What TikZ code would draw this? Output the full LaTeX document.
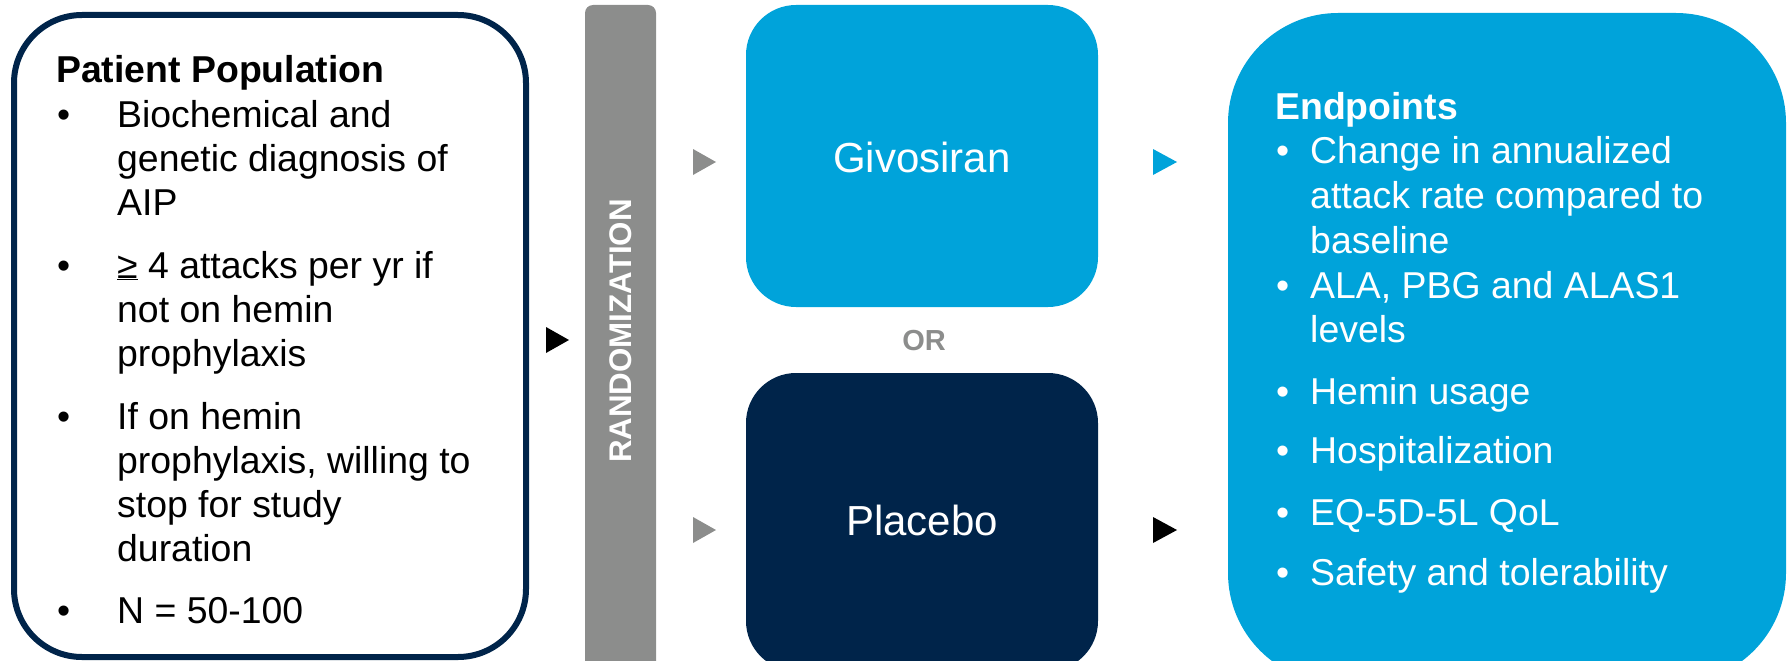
\documentclass[tikz,border=0pt]{standalone}
\usepackage{fontspec}
\setmainfont{Liberation Sans}
\definecolor{cblue}{RGB}{0,163,218}
\definecolor{cnavy}{RGB}{0,36,74}
\definecolor{cgrey}{RGB}{140,141,140}
\begin{document}
\begin{tikzpicture}[x=1pt,y=-1pt,
  box/.style={anchor=north west, inner sep=0pt, outer sep=0pt},
  body/.style={anchor=base west, inner sep=0pt, font=\fontsize{37.4}{44.7}\selectfont},
  head/.style={anchor=base west, inner sep=0pt, font=\fontsize{37.4}{44.7}\selectfont\bfseries},
  blk/.style={text=black},
  wht/.style={text=white}]
\clip (0,0) rectangle (1789,661);
% boxes
\node[box, draw=cnavy, line width=6pt, rounded corners=68pt, minimum width=512pt, minimum height=642pt] (pop) at (14,15) {};
\node[box, fill=cgrey, rounded corners=8pt, minimum width=71pt, minimum height=670pt] (rand) at (585,5) {};
\node[box, fill=cblue, rounded corners=50pt, minimum width=352pt, minimum height=302pt] (giv) at (746,5) {};
\node[box, fill=cnavy, rounded corners=50pt, minimum width=352pt, minimum height=298pt] (pla) at (746,373) {};
\node[box, fill=cblue, rounded corners=110pt, minimum width=558pt, minimum height=670pt] (endp) at (1228,13) {};
% box labels
\node[inner sep=0pt, rotate=90, text=white, font=\fontsize{31.3}{36}\selectfont\bfseries] (randt) at (621,331) {RANDOMIZATION};
\node[inner sep=0pt, text=white, font=\fontsize{42}{50}\selectfont] (givt) at (922,157) {Givosiran};
\node[inner sep=0pt, text=white, font=\fontsize{42}{50}\selectfont] (plat) at (922,520) {Placebo};
\node[inner sep=0pt, text=cgrey, font=\fontsize{29}{34}\selectfont\bfseries] (ort) at (924,341) {OR};
% arrowheads
\fill[black] (546,327) coordinate (a1) -- (569,340) -- (546,353) -- cycle;
\fill[cgrey] (693,149) coordinate (a2) -- (716,162) -- (693,175) -- cycle;
\fill[cgrey] (693,517) coordinate (a3) -- (716,530) -- (693,543) -- cycle;
\fill[cblue] (1153,149) coordinate (a4) -- (1177,162) -- (1153,175) -- cycle;
\fill[black] (1153,517) coordinate (a5) -- (1177,530) -- (1153,543) -- cycle;
% patient population
\node[head, blk] (ppt) at (56,83) {Patient Population};
\node[body, blk] (pb1) at (57,127) {•};
\node[body, blk] (pb2) at (57,278) {•};
\node[body, blk] (pb3) at (57,429) {•};
\node[body, blk] (pb4) at (57,623) {•};
\node[body, blk] (p1) at (117,127) {Biochemical and};
\node[body, blk] (p2) at (117,171) {genetic diagnosis of};
\node[body, blk] (p3) at (117,215) {AIP};
\node[body, blk] (p4) at (117,278) {\underline{≥} 4 attacks per yr if};
\node[body, blk] (p5) at (117,322) {not on hemin};
\node[body, blk] (p6) at (117,366) {prophylaxis};
\node[body, blk] (p7) at (117,429) {If on hemin};
\node[body, blk] (p8) at (117,473) {prophylaxis, willing to};
\node[body, blk] (p9) at (117,517) {stop for study};
\node[body, blk] (p10) at (117,561) {duration};
\node[body, blk] (p11) at (117,623) {N = 50-100};
% endpoints
\node[head, wht] (ept) at (1275,119) {Endpoints};
\node[body, wht] (eb1) at (1276,163) {•};
\node[body, wht] (eb2) at (1276,298) {•};
\node[body, wht] (eb3) at (1276,404) {•};
\node[body, wht] (eb4) at (1276,463) {•};
\node[body, wht] (eb5) at (1276,525) {•};
\node[body, wht] (eb6) at (1276,585) {•};
\node[body, wht] (e1) at (1310,163) {Change in annualized};
\node[body, wht] (e2) at (1310,208) {attack rate compared to};
\node[body, wht] (e3) at (1310,253) {baseline};
\node[body, wht] (e4) at (1310,298) {ALA, PBG and ALAS1};
\node[body, wht] (e5) at (1310,342) {levels};
\node[body, wht] (e6) at (1310,404) {Hemin usage};
\node[body, wht] (e7) at (1310,463) {Hospitalization};
\node[body, wht] (e8) at (1310,525) {EQ-5D-5L QoL};
\node[body, wht] (e9) at (1310,585) {Safety and tolerability};
\end{tikzpicture}
\end{document}
